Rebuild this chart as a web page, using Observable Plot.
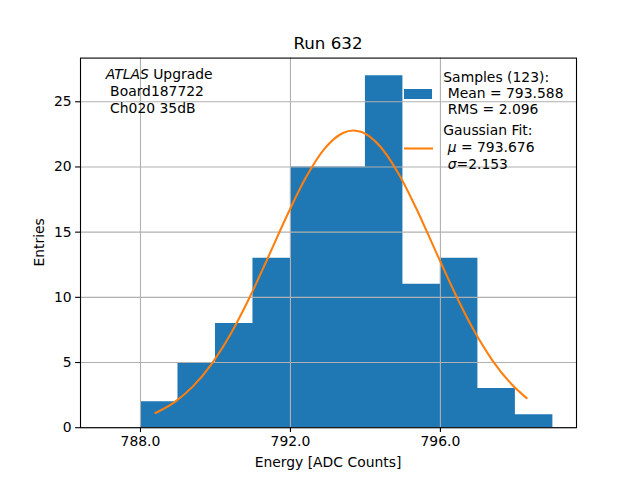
<!DOCTYPE html>
<html>
<head>
<meta charset="utf-8">
<script src="https://cdn.jsdelivr.net/npm/d3@7"></script>
<script src="https://cdn.jsdelivr.net/npm/@observablehq/plot@0.6"></script>
<style>
  body { margin: 0; background: white; }
  svg text { white-space: pre; }
</style>
</head>
<body>
<div id="chart"></div>
<script>
// Histogram bin edges (width 1) and counts
const binEdges = [788, 789, 790, 791, 792, 793, 794, 795, 796, 797, 798, 799];
const counts = [2, 5, 8, 13, 20, 20, 27, 11, 13, 3, 1];

// Gaussian fit curve
const fitX = [788.4, 788.9, 789.4, 789.9, 790.4, 790.9, 791.4, 791.9, 792.4, 792.9, 793.4, 793.676, 793.9, 794.4, 794.9, 795.4, 795.9, 796.4, 796.9, 797.4, 797.9, 798.3];
const fitY = [1.13, 1.95, 3.17, 4.90, 7.16, 9.93, 13.04, 16.22, 19.13, 21.37, 22.61, 22.8, 22.68, 21.55, 19.40, 16.55, 13.37, 10.24, 7.43, 5.11, 3.33, 2.27];

const xTicks = [788, 792, 796];
const yTicks = [0, 5, 10, 15, 20, 25];

const title = "Run 632";
const xLabel = "Energy [ADC Counts]";
const yLabel = "Entries";
const sampleLines = ["Samples (123):", " Mean = 793.588", " RMS = 2.096"];

// step table: each edge with the count of the bin starting there (last edge repeats last count)
const steps = binEdges.map((x, i) => ({x, n: counts[Math.min(i, counts.length - 1)]}));
const fit = fitX.map((x, i) => ({x, y: fitY[i]}));

const W = 640, H = 480, mL = 80, mR = 64, mT = 57.6, mB = 52.8;
const FONT = "DejaVu Sans";
const FS = 13.9;

const svg = Plot.plot({
  width: W, height: H,
  marginLeft: mL, marginRight: mR, marginTop: mT, marginBottom: mB,
  x: {domain: [786.4, 799.63]},
  y: {domain: [0, 28.35]},
  style: {fontFamily: FONT, fontSize: FS + "px", color: "black", background: "white"},
  marks: [
    Plot.areaY(steps, {x: "x", y: "n", fill: "#1f77b4", fillOpacity: 1, curve: "step-after"}),
    Plot.gridX(xTicks, {stroke: "#b0b0b0", strokeOpacity: 1, strokeWidth: 1.1}),
    Plot.gridY(yTicks, {stroke: "#b0b0b0", strokeOpacity: 1, strokeWidth: 1.1}),
    Plot.line(fit, {x: "x", y: "y", stroke: "#ff7f0e", strokeWidth: 2.08, curve: "monotone-x"}),
    Plot.frame({stroke: "black", strokeWidth: 1.1}),
    Plot.axisX({ticks: xTicks, tickFormat: d3.format(".1f"), tickSize: 4.9, tickPadding: 4, label: null, fontSize: FS, strokeWidth: 1.1}),
    Plot.axisY({ticks: yTicks, tickSize: 4.9, tickPadding: 4, label: null, fontSize: FS, strokeWidth: 1.1})
  ]
});

document.getElementById("chart").appendChild(svg);

const s = d3.select(svg);
const g = s.append("g").attr("font-family", FONT).attr("font-size", FS)
  .attr("fill", "black").attr("text-anchor", "start");

// Title
g.append("text").attr("x", (mL + W - mR) / 2).attr("y", 49.3)
  .attr("text-anchor", "middle").attr("font-size", 16.7).text(title);

// Axis labels
g.append("text").attr("x", (mL + W - mR) / 2).attr("y", 467)
  .attr("text-anchor", "middle").text(xLabel);
g.append("text").attr("transform", `translate(44.3, ${(mT + H - mB) / 2}) rotate(-90)`)
  .attr("text-anchor", "middle").text(yLabel);

// Top-left annotation
const t1 = g.append("text").attr("x", 105.7).attr("y", 79);
t1.append("tspan").attr("font-style", "italic").text("ATLAS");
t1.append("tspan").text(" Upgrade");
g.append("text").attr("x", 105.7).attr("y", 96).text(" Board187722");
g.append("text").attr("x", 105.7).attr("y", 113).text(" Ch020 35dB");

// Legend
const lx = 443.3;
g.append("rect").attr("x", 404).attr("y", 89).attr("width", 28).attr("height", 10).attr("fill", "#1f77b4");
[81.7, 97.5, 114.3].forEach((yy, i) => g.append("text").attr("x", lx).attr("y", yy).text(sampleLines[i]));
g.append("line").attr("x1", 404).attr("x2", 433).attr("y1", 148.5).attr("y2", 148.5)
  .attr("stroke", "#ff7f0e").attr("stroke-width", 2.08);
g.append("text").attr("x", lx).attr("y", 134.5).text("Gaussian Fit:");
const m = g.append("text").attr("x", lx).attr("y", 152);
m.append("tspan").text(" ");
m.append("tspan").attr("font-style", "italic").text("μ");
m.append("tspan").text(" = 793.676");
const sg = g.append("text").attr("x", lx).attr("y", 169);
sg.append("tspan").text(" ");
sg.append("tspan").attr("font-style", "italic").text("σ");
sg.append("tspan").text("=2.153");
</script>
</body>
</html>
